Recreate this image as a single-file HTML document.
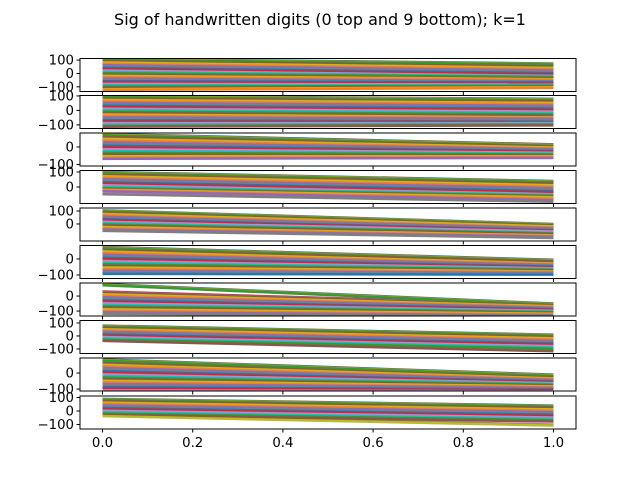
<!DOCTYPE html>
<html><head><meta charset="utf-8"><style>
body{margin:0;background:#fff;font-family:"Liberation Sans","DejaVu Sans",sans-serif}
svg text{font-family:"DejaVu Sans","Liberation Sans",sans-serif;font-size:13.3px;fill:#000}
</style></head><body>
<svg id="fig" width="640" height="480">
<text x="320" y="25" text-anchor="middle" style="font-size:16px">Sig of handwritten digits (0 top and 9 bottom); k=1</text>
</svg>
<script>
const xTicks=[0,0.2,0.4,0.6,0.8,1.0];
const xTickLabels=["0.0","0.2","0.4","0.6","0.8","1.0"];
const panelTops=[58.5,95.5,133,170.5,208,245.5,283,320.5,358,396];
const panelYMin=[-135,-125,-109,-110,-131,-122,-133,-135,-112,-133];
const panelYMax=[112,103,80,110,123,84,87,119,94,111];
const panelTicks=[[100,0,-100],[100,0,-100],[0,-100],[100,0],[100,0],[0,-100],[0,-100],[100,0,-100],[0,-100],[100,0,-100]];
const starts=[
[110,100,90,80,70,60,50,40,30,20,10,0,-10,-20,-30,-40,-50,-60,-70,-80,-90,-100,-110,-115],
[100,90,80,70,60,50,40,30,20,10,0,-10,-20,-30,-40,-50,-60,-70,-80,-90,-100,-105],
[75,65,55,45,35,25,15,5,-5,-15,-25,-35,-45,-55,-60],
[100,90,80,70,60,50,40,30,20,10,0,-5,-10,-15,-20,-40],
[105,95,85,75,65,55,45,35,25,15,5,-5,-15,-25,-35,-45],
[75,65,55,45,35,25,15,5,-5,-15,-25,-35,-45,-55,-65,-75,-85],
[80,30,20,10,0,-10,-20,-30,-40,-50,-60,-70,-80,-90,-100,-110],
[80,70,60,50,40,30,20,10,0,-10,-20,-30],
[85,70,60,50,40,30,20,10,0,-10,-20,-30,-40,-50,-60,-70,-80,-90,-100],
[90,80,70,60,50,40,30,20,10,0,-10,-20,-30]];
const ends=[
[75,60,50,40,30,20,10,0,-10,-15,-20,-30,-35,-40,-50,-55,-60,-70,-75,-80,-85,-90,-95,-100],
[80,70,60,50,40,30,20,10,0,-10,-20,-30,-40,-45,-50,-60,-70,-75,-80,-85,-90,-95],
[15,10,5,0,-5,-10,-15,-20,-25,-30,-35,-40,-45,-50,-55],
[40,30,20,10,0,-10,-20,-30,-40,-45,-50,-55,-60,-70,-80,-90],
[0,-5,-10,-20,-25,-30,-40,-45,-50,-60,-65,-70,-80,-85,-90,-100],
[-5,-10,-20,-25,-30,-35,-40,-45,-50,-55,-60,-65,-70,-75,-80,-85,-90],
[-50,-55,-60,-65,-70,-75,-80,-85,-90,-95,-100,-105,-110,-115,-120,-125],
[10,0,-10,-20,-30,-40,-50,-60,-70,-80,-90,-110],
[-10,-20,-25,-30,-35,-40,-45,-50,-55,-60,-65,-70,-75,-80,-85,-90,-95,-100,-105],
[40,30,20,10,0,-10,-20,-30,-40,-50,-60,-70,-100]];
const colors=["#1f77b4","#ff7f0e","#2ca02c","#d62728","#9467bd","#8c564b","#e377c2","#7f7f7f","#bcbd22","#17becf"];
const svg=document.getElementById('fig');const NS="http://www.w3.org/2000/svg";
const L=80,R=576,H=33;
const xs=v=>102.5+v*(553.5-102.5);
function mk(t,a){const e=document.createElementNS(NS,t);for(const k in a)e.setAttribute(k,a[k]);svg.appendChild(e);return e;}
for(let p=0;p<10;p++){
 const top=panelTops[p];
 const ys=v=>top+H-(v-panelYMin[p])/(panelYMax[p]-panelYMin[p])*H;
 const clip=mk('clipPath',{id:'c'+p});
 const cr=document.createElementNS(NS,'rect');cr.setAttribute('x',L);cr.setAttribute('y',top);cr.setAttribute('width',R-L);cr.setAttribute('height',H);clip.appendChild(cr);
 const g=mk('g',{'clip-path':'url(#c'+p+')'});
 
 
 const n=starts[p].length;
 for(let rep=0;rep<3;rep++)for(let i=0;i<n;i++){
  const off=rep*4;
  const l=document.createElementNS(NS,'line');
  l.setAttribute('x1',xs(0));l.setAttribute('x2',xs(1));
  l.setAttribute('y1',ys(starts[p][i]-off));l.setAttribute('y2',ys(ends[p][i]-off));
  l.setAttribute('stroke',colors[(i*3+rep)%10]);l.setAttribute('stroke-width',2.5);
  
  
  g.appendChild(l);
 }
 const fr=mk('rect',{x:L,y:top,width:R-L,height:H,fill:'none',stroke:'#000','stroke-width':1});
 
 
 panelTicks[p].forEach(t=>{
  const y=ys(t);
  mk('line',{x1:L-3.5,x2:L,y1:y,y2:y,stroke:'#000'});
  const tx=mk('text',{x:L-6,y:y+4.5,'text-anchor':'end'});tx.textContent=t===-100?'\u2212100':String(t);
  
  
 });
 xTicks.forEach((t,i)=>{
  const x=xs(t);mk('line',{x1:x,x2:x,y1:top+H,y2:top+H+3.5,stroke:'#000'});
  if(p===9){const tx=mk('text',{x:x,y:top+H+18,'text-anchor':'middle'});tx.textContent=xTickLabels[i];
   
   }
 });
}
</script>
</body></html>
